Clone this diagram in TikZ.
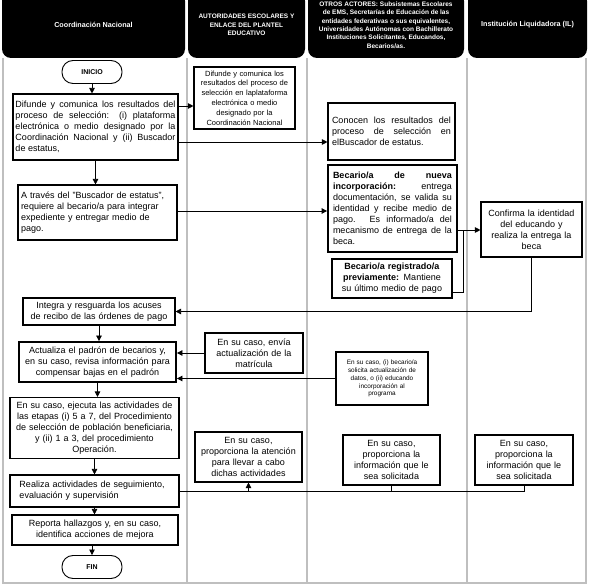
\documentclass[tikz,border=0pt]{standalone}
\usepackage{fontspec}
\setmainfont{Liberation Sans}
\usetikzlibrary{arrows.meta}
\definecolor{bebebe}{rgb}{0.75,0.75,0.75}

\tikzset{
  caja/.style={draw,line width=1.1pt,inner sep=2pt,font=\fontsize{9}{11}\selectfont},
  cajagruesa/.style={caja,line width=1.8pt},
  encabezado/.style={fill=black,rounded corners=9pt,text=white,align=center,minimum height=66pt,font=\bfseries\fontsize{7.2}{8.3}\selectfont},
  terminal/.style={draw,line width=0.9pt,rounded corners=11pt,minimum width=60pt,minimum height=23pt,font=\bfseries\fontsize{7}{8}\selectfont},
  carril/.style={draw=bebebe,line width=1.5pt},
  flujo/.style={line width=0.8pt}
}

\begin{document}
\begin{tikzpicture}[x=1pt,y=-1pt,>={Triangle[length=5.5pt,width=5.5pt]}]
\useasboundingbox (0,0) rectangle (590,588);
\draw[carril] (3,58) -- (3,583) -- (586,583) -- (586,58);
\foreach \x in {187,307,467}
\draw[carril] (\x,58) -- (\x,583);
\node[encabezado,minimum width=183pt] (cn) at (93.5,25) {Coordinación Nacional};
\node[encabezado,minimum width=117pt,font=\bfseries\fontsize{6.5}{8.3}\selectfont] (ae) at (246.5,25) {AUTORIDADES ESCOLARES Y\\ENLACE DEL PLANTEL\\EDUCATIVO};
\node[encabezado,minimum width=156pt,font=\bfseries\fontsize{6.5}{8.3}\selectfont] (oa) at (386,25) {OTROS ACTORES: Subsistemas Escolares\\de EMS, Secretarías de Educación de las\\entidades federativas o sus equivalentes,\\Universidades Autónomas con Bachillerato\\Instituciones Solicitantes, Educandos,\\Becarios/as.};
\node[encabezado,minimum width=119pt] (il) at (527.5,25) {Institución Liquidadora (IL)};

\node[terminal] (inicio) at (92,72) {INICIO};
\node[caja,minimum width=165pt,minimum height=66pt,text width=160pt,align=justify] (cn1) at (95.5,127) {Difunde y comunica los resultados del\linebreak proceso de selección: (i) plataforma\linebreak electrónica o medio designado por la\linebreak Coordinación Nacional y (ii) Buscador\linebreak de estatus,};
\node[caja,minimum width=101pt,minimum height=62pt,text width=97pt,align=center,font=\fontsize{7.5}{9.8}\selectfont] (ae1) at (244.5,98) {Difunde y comunica los\\resultados del proceso de\\selección en laplataforma\\electrónica o medio\\designado por la\\Coordinación Nacional};
\node[caja,minimum width=127pt,minimum height=57pt,text width=119pt,align=justify] (oa1) at (391.5,131.5) {Conocen los resultados del\linebreak proceso de selección en\linebreak elBuscador de estatus.};
\node[caja,minimum width=159pt,minimum height=55pt,text width=153pt,align=left] (cn2) at (97.5,212.5) {A través del "Buscador de estatus",\\requiere al becario/a para integrar\\expediente y entregar medio de\\pago.};
\node[cajagruesa,minimum width=129pt,minimum height=87pt,text width=119pt,align=justify] (oa2) at (392.5,208.5) {\textbf{Becario/a de nueva}\linebreak \textbf{incorporación:} entrega\linebreak documentación, se valida su\linebreak identidad y recibe medio de\linebreak pago. Es informado/a del\linebreak mecanismo de entrega de la\linebreak beca.};
\node[cajagruesa,minimum width=120pt,minimum height=39pt,text width=116pt,align=center] (oa3) at (392,278.5) {\textbf{Becario/a registrado/a}\\\textbf{previamente:} Mantiene\\su último medio de pago};
\node[caja,minimum width=101pt,minimum height=55pt,text width=97pt,align=center] (il1) at (531.5,229.5) {Confirma la identidad\\del educando y\\realiza la entrega la\\beca};
\node[caja,minimum width=152pt,minimum height=27pt,text width=148pt,align=center] (cn3) at (99,311.5) {Integra y resguarda los acuses\\de recibo de las órdenes de pago};
\node[cajagruesa,minimum width=157pt,minimum height=40pt,text width=153pt,align=center] (cn4) at (97.5,362) {Actualiza el padrón de becarios y,\\en su caso, revisa información para\\compensar bajas en el padrón};
\node[caja,minimum width=98pt,minimum height=40pt,text width=94pt,align=center] (ae2) at (254,353) {En su caso, envía\\actualización de la\\matrícula};
\node[cajagruesa,minimum width=92pt,minimum height=53pt,text width=88pt,align=center,font=\fontsize{6.4}{7.9}\selectfont] (oa4) at (382,378.5) {En su caso, (i) becario/a\\solicita actualización de\\datos, o (ii) educando\\incorporación al\\programa};
\node[caja,minimum width=169pt,minimum height=61pt,text width=165pt,align=center] (cn5) at (94.5,428) {En su caso, ejecuta las actividades de\\las etapas (i) 5 a 7, del Procedimiento\\de selección de población beneficiaria,\\y (ii) 1 a 3, del procedimiento\\Operación.};
\node[caja,minimum width=169pt,minimum height=32pt,text width=150pt,align=left] (cn6) at (94.5,491) {Realiza actividades de seguimiento,\\evaluación y supervisión};
\node[caja,minimum width=166pt,minimum height=30pt,text width=160pt,align=center] (cn7) at (95,530) {Reporta hallazgos y, en su caso,\\identifica acciones de mejora};
\node[terminal] (fin) at (92,567) {FIN};
\node[caja,minimum width=107pt,minimum height=50pt,text width=103pt,align=center] (ae3) at (248.5,457) {En su caso,\\proporciona la atención\\para llevar a cabo\\dichas actividades};
\node[caja,minimum width=97pt,minimum height=50pt,text width=93pt,align=center] (oa5) at (391.5,460) {En su caso,\\proporciona la\\información que le\\sea solicitada};
\node[caja,minimum width=98pt,minimum height=50pt,text width=94pt,align=center] (il2) at (524,460) {En su caso,\\proporciona la\\información que le\\sea solicitada};

\coordinate (union) at (463,230);
\draw[flujo,->] (inicio.south) -- (inicio.south |- cn1.north);
\draw[flujo,->] (cn1.east |- 0,106) -- (ae1.west |- 0,106);
\draw[flujo,->] (cn1.east |- 0,142) -- (oa1.west |- 0,142);
\draw[flujo,->] (cn1.south) -- (cn1.south |- cn2.north);
\draw[flujo,->] (cn2.east |- 0,211) -- (oa2.west |- 0,211);
\draw[flujo,->] (oa2.east |- union) -- (il1.west |- union);
\draw[flujo] (oa3.east |- 0,292) -| (union);
\draw[flujo,->] (il1.south) |- (cn3.east);
\draw[flujo,->] (cn3.south) -- (cn3.south |- cn4.north);
\draw[flujo,->] (ae2.west) -- (ae2.west -| cn4.east);
\draw[flujo,->] (oa4.west) -- (oa4.west -| cn4.east);
\draw[flujo,->] (cn4.south) -- (cn4.south |- cn5.north);
\draw[flujo,->] (cn5.south) -- (cn5.south |- cn6.north);
\draw[flujo,->] (cn6.south) -- (cn6.south |- cn7.north);
\draw[flujo,->] (fin.north |- cn7.south) -- (fin.north);
\draw[flujo] (cn6.east) -- (il2.south |- cn6.east) -- (il2.south);
\draw[flujo] (oa5.south) -- (oa5.south |- cn6.east);
\draw[flujo,->] (ae3.south |- cn6.east) -- (ae3.south);
\end{tikzpicture}
\end{document}
